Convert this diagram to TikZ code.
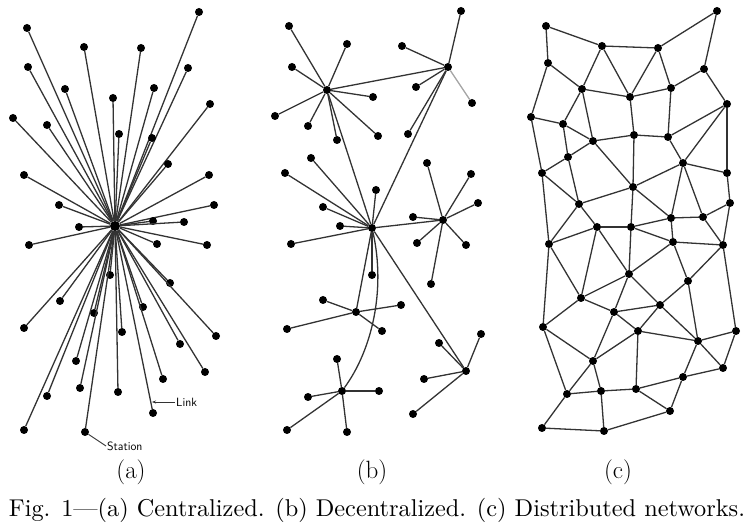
\documentclass[tikz,border=0pt]{standalone}
\usepackage{graphicx}
\usepackage{tikz}
\usetikzlibrary{arrows.meta}

\begin{document}
\begin{tikzpicture}[x=1pt, y=-1pt,
  dot/.style={circle, fill=black, inner sep=0pt, minimum size=8pt},
  hub/.style={circle, fill=black, inner sep=0pt, minimum size=10pt},
  lnk/.style={draw=black!80, line width=1.3pt},
  tag/.style={font=\sffamily\fontsize{12}{14}\selectfont, inner sep=1pt},
  sub/.style={font=\fontsize{25}{30}\selectfont}]
\useasboundingbox (0,0) rectangle (750,526);

% (a) centralized
\node[hub](ha) at (115,226) {};
\foreach \px/\py [count=\i] in {199/12, 27/28, 84/47, 141/48, 28/67, 188/68, 65/89,
    154/88, 113/98, 210/104, 13/118, 47/125, 119/134, 152/138, 168/164, 24/175,
    209/175, 59/205, 214/205, 153/221, 184/222, 79/227, 29/245, 157/244, 207/245,
    110/275, 170/283, 60/301, 94/313, 143/307, 24/328, 122/332, 216/336, 180/344,
    76/361, 205/372, 163/379, 80/388, 47/396, 118/392, 153/413, 24/430, 85/432}
  {\node[dot](a\i) at (\px,\py) {};
   \draw[lnk](ha)--(a\i);}
\node[tag, anchor=west](link) at (175,402) {Link};
\coordinate (linkpt) at (152,402);
\draw[lnk, line width=0.9pt, {Stealth[length=4pt]}-](linkpt)--(link);
\node[tag, anchor=west](station) at (106,446) {Station};
\draw[lnk, line width=0.9pt](a43)--(station.west);

% (b) decentralized
\node[dot](b1) at (327,90) {};
\node[dot](b2) at (448,67) {};
\node[dot](b3) at (372,228) {};
\node[dot](b4) at (443,220) {};
\node[dot](b5) at (356,312) {};
\node[dot](b6) at (342,391) {};
\node[dot](b7) at (466,371) {};
\foreach \frm/\tto in {b1/b2, b1/b3, b2/b3, b3/b4, b3/b5, b3/b7}
  {\draw[lnk](\frm)--(\tto);}
\draw[lnk](b3) .. controls (386,290) and (372,350) .. (b6);

\foreach \px/\py [count=\i] in {289/26, 347/44, 292/67, 373/97, 275/116, 308/126, 337/140, 378/136}
  {\node[dot](b1l\i) at (\px,\py) {}; \draw[lnk](b1)--(b1l\i);}
\foreach \px/\py [count=\i] in {461/11, 402/46, 416/87, 408/134}
  {\node[dot](b2l\i) at (\px,\py) {}; \draw[lnk](b2)--(b2l\i);}
\node[dot](b2l5) at (472,103) {};
\draw[lnk, draw=black!35](b2)--(b2l5);
\foreach \px/\py [count=\i] in {311/158, 285/173, 376/190, 323/207, 340/226, 291/244, 372/275}
  {\node[dot](b3l\i) at (\px,\py) {}; \draw[lnk](b3)--(b3l\i);}
\foreach \px/\py [count=\i] in {427/163, 471/174, 478/203, 413/217, 417/243, 466/245, 431/284}
  {\node[dot](b4l\i) at (\px,\py) {}; \draw[lnk](b4)--(b4l\i);}
\foreach \px/\py [count=\i] in {323/300, 401/305, 287/329, 382/331}
  {\node[dot](b5l\i) at (\px,\py) {}; \draw[lnk](b5)--(b5l\i);}
\foreach \px/\py [count=\i] in {337/359, 308/397, 379/391, 287/430, 347/432}
  {\node[dot](b6l\i) at (\px,\py) {}; \draw[lnk](b6)--(b6l\i);}
\foreach \px/\py [count=\i] in {439/343, 481/334, 424/379, 413/414}
  {\node[dot](b7l\i) at (\px,\py) {}; \draw[lnk](b7)--(b7l\i);}

% (c) distributed
\foreach \px/\py [count=\i] in {546/26, 602/46, 658/48, 717/11, 548/63, 704/69, 582/89,
    630/97, 671/88, 727/104, 531/117, 563/124, 593/141, 634/135, 668/137, 568/157,
    542/173, 683/163, 727/173, 633/187, 579/204, 730/203, 671/218, 703/217, 597/227,
    631/227, 549/244, 673/242, 723/245, 629/274, 688/281, 581/298, 660/305, 614/312,
    543/327, 638/331, 698/341, 736/331, 593/361, 723/368, 683/377, 567/394, 601/391,
    636/389, 670/411, 542/428, 604/431}
  {\node[dot](c\i) at (\px,\py) {};}
\foreach \frm/\tto in {c1/c2, c2/c3, c3/c4, c4/c6, c1/c5, c5/c7, c2/c7, c2/c8, c3/c8,
    c3/c9, c6/c9, c6/c10, c7/c8, c8/c9, c5/c11, c11/c12, c7/c12, c7/c13, c12/c13,
    c8/c14, c9/c15, c13/c14, c14/c15, c15/c10, c10/c18, c15/c18, c10/c19, c11/c17,
    c12/c16, c17/c16, c16/c13, c13/c20, c14/c20, c17/c21, c16/c21, c20/c21, c18/c20,
    c18/c19, c18/c23, c18/c24, c19/c22, c20/c26, c20/c23, c21/c25, c21/c27, c17/c27,
    c23/c24, c24/c22, c25/c26, c23/c26, c22/c29, c24/c29,
    c27/c25, c23/c28, c26/c28, c28/c29, c25/c32, c25/c30, c26/c30, c28/c30, c28/c31,
    c29/c31, c29/c38, c27/c32, c27/c35, c32/c30, c32/c34, c32/c35, c30/c34, c30/c33,
    c34/c33, c31/c33, c31/c37, c33/c36, c33/c37, c34/c36, c34/c39, c35/c39, c35/c42,
    c36/c39, c36/c37, c36/c44, c37/c38, c38/c40, c37/c40, c37/c41, c41/c40, c41/c44,
    c41/c45, c39/c42, c39/c43, c42/c43, c43/c44, c43/c47, c42/c46, c46/c47, c47/c45,
    c44/c45}
  {\draw[lnk](\frm)--(\tto);}

% captions
\node[sub](capa) at (131,472) {(a)};
\node[sub](capb) at (372,472) {(b)};
\node[sub](capc) at (618,472) {(c)};
\node(fig) at (377,510) {\resizebox{736pt}{!}{Fig. 1---(a) Centralized. (b) Decentralized. (c) Distributed networks.}};

\end{tikzpicture}
\end{document}
